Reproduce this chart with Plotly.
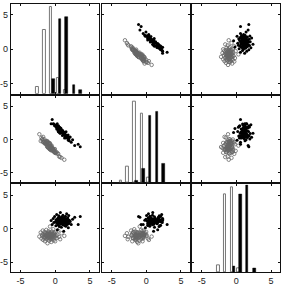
import plotly.graph_objects as go

# ---- data: group A (open circles), group B (filled dots); three variables ----
a_v1 = [-2.3, -2.1, -2.0, -1.9, -1.85, -1.8, -1.75, -1.7, -1.65, -1.6, -1.55, -1.5, -1.48, -1.45, -1.4,
        -1.38, -1.35, -1.3, -1.28, -1.25, -1.2, -1.18, -1.15, -1.12, -1.1, -1.08, -1.05, -1.02, -1.0, -0.97,
        -0.93, -0.9, -0.88, -0.86, -0.84, -0.82, -0.8, -0.78, -0.76, -0.74, -0.72, -0.7, -0.68, -0.66, -0.64,
        -0.62, -0.6, -0.57, -0.54, -0.52, -0.5, -0.47, -0.44, -0.41, -0.38, -0.35, -0.32, -0.29, -0.26, -0.23,
        -0.2, -0.17, -0.13, -0.1, -0.06, -0.02, 0.02, 0.1, 0.2, 0.3, 0.42, 0.55, 0.7, 0.9, 1.3]
a_v2 = [0.77, -0.25, 0.25, 0.00, 0.05, -0.38, 0.37, -0.45, -0.40, -0.30, -0.02, -0.65, -0.54, -0.48, -0.42,
        -0.44, -0.27, -0.75, -0.75, -0.74, -0.25, -1.07, -0.62, -1.16, -0.35, -1.12, -0.44, -1.17, -0.59, -1.34,
        -0.65, -0.99, -1.03, -1.35, -0.73, -1.35, -0.56, -1.44, -0.95, -1.54, -0.74, -1.54, -1.03, -1.53, -1.35,
        -1.24, -1.09, -1.32, -1.24, -1.72, -0.98, -1.61, -1.49, -1.56, -1.38, -1.57, -1.49, -1.74, -1.65, -1.54,
        -1.55, -1.88, -1.91, -2.00, -1.46, -2.03, -1.89, -2.10, -1.95, -2.13, -2.19, -2.59, -2.68, -2.80, -3.08]
a_v3 = [-1.2, -0.6, -1.5, -0.9, -1.1, -0.3, -1.7, -0.8, -1.3, -1.0,
        -0.5, -1.4, -1.9, -0.7, -1.05, -1.25, -0.95, -0.2, -1.6, -1.15,
        -0.85, -1.35, -0.75, -2.2, -1.0, -0.65, -1.45, -1.1, -0.4, -1.3,
        -0.9, -1.8, -1.2, -0.55, -1.0, -1.5, -0.8, -1.25, 0.3, -1.1,
        -0.7, -1.4, -0.95, -1.65, -1.05, -0.6, -1.2, -2.0, -0.85, -1.35,
        -1.0, -0.45, -1.15, -1.55, -0.75, -1.3, -0.9, -0.1, -1.1, -1.75,
        -1.0, -0.65, -1.45, -0.8, -1.2, -1.9, -0.5, -1.05, -1.4, -0.95,
        -0.3, -1.25, -1.6, -0.7, -1.1]

b_v1 = [-0.6, -0.45, -0.3, -0.2, -0.1, 0.0, 0.08, 0.12, 0.16, 0.2, 0.24, 0.28, 0.31, 0.34, 0.37,
        0.4, 0.43, 0.46, 0.49, 0.52, 0.55, 0.58, 0.61, 0.64, 0.67, 0.7, 0.73, 0.76, 0.79, 0.82,
        0.85, 0.88, 0.91, 0.94, 0.97, 1.0, 1.03, 1.07, 1.1, 1.13, 1.16, 1.19, 1.22, 1.25, 1.28,
        1.31, 1.34, 1.37, 1.4, 1.43, 1.46, 1.49, 1.52, 1.55, 1.58, 1.61, 1.64, 1.67, 1.7, 1.73,
        1.76, 1.79, 1.82, 1.85, 1.88, 1.91, 1.94, 1.98, 2.02, 2.15, 2.3, 2.5, 2.8, 3.3, 3.6]
b_v2 = [2.35, 3.00, 2.35, 2.30, 2.07, 2.12, 1.97, 1.98, 1.79, 2.22, 1.54, 2.35, 1.64, 1.81, 1.58,
        1.83, 1.19, 2.06, 1.36, 1.87, 1.08, 1.84, 1.58, 1.73, 0.96, 1.76, 0.93, 1.63, 1.09, 1.64,
        1.06, 1.18, 1.25, 1.35, 1.12, 1.18, 0.58, 1.34, 0.89, 0.88, 0.92, 1.07, 1.05, 0.99, 0.63,
        0.88, 0.20, 1.06, 0.78, 0.69, 0.52, 0.65, 0.50, 1.14, 0.21, 0.42, 0.31, 0.40, 0.35, 0.48,
        0.34, 0.28, 0.23, 0.67, -0.13, 0.09, 0.04, 0.32, -0.22, 0.35, -0.45, -0.05, -0.92, -0.75, -1.12]
b_v3 = [1.2, 0.6, 1.5, 0.9, 1.8, 1.0, 0.4, 1.3, 1.1, 2.1,
        0.8, 1.4, -0.2, 1.15, 0.7, 1.6, 1.05, 0.5, 1.25, 1.9,
        0.95, 0.3, 1.35, 1.7, 0.85, 1.0, 2.4, 1.2, 0.65, 1.45,
        1.1, 0.2, 1.55, 0.9, 1.3, 1.75, 0.75, 1.05, 2.0, 0.55,
        1.4, 1.15, -0.4, 0.8, 1.65, 1.25, 0.45, 1.0, 1.5, 0.9,
        1.85, 1.1, 0.35, 1.35, 0.7, 1.2, 2.2, 0.95, 1.45, 0.6,
        1.0, 1.6, 0.85, 1.3, 0.1, 1.15, 1.95, 0.75, 1.25, 1.05,
        0.6, 1.4, 1.7, 0.6, 1.8]

# ---- histogram bars on the diagonal (bar centre, count) ----
h1_a_x = [-2.6, -1.6, -0.6, 0.35, 1.4];    h1_a_n = [4, 36, 49, 9, 2]
h1_b_x = [-0.3, 0.7, 1.6, 2.7, 3.6];       h1_b_n = [8, 42, 43, 5, 2]
h2_a_x = [-3.65, -2.7, -1.7, -0.6, 0.3];   h2_a_n = [1, 9, 47, 40, 3]
h2_b_x = [-1.4, -0.4, 0.55, 1.55, 2.5];    h2_b_n = [1, 8, 39, 41, 11]
h3_a_x = [-2.6, -1.65, -0.6, 0.3];         h3_a_n = [4, 45, 49, 2]
h3_b_x = [-0.35, 0.6, 1.55, 2.6];          h3_b_n = [3, 45, 50, 2]

tick_vals = [-5, 0, 5]
tick_text = ["-5", "0", "5"]

A = [a_v1, a_v2, a_v3]
B = [b_v1, b_v2, b_v3]
HA = [(h1_a_x, h1_a_n), (h2_a_x, h2_a_n), (h3_a_x, h3_a_n)]
HB = [(h1_b_x, h1_b_n), (h2_b_x, h2_b_n), (h3_b_x, h3_b_n)]

W, H = 282, 286
col_px = [(8, 97), (100, 189), (191, 280)]
row_px = [(4, 94), (96, 183), (185, 273)]
XR = [-6.4, 6.3]
YR = [-6.5, 6.6]

fig = go.Figure()
layout = dict(width=W, height=H, margin=dict(l=0, r=0, t=0, b=0),
              paper_bgcolor="white", plot_bgcolor="rgba(0,0,0,0)", showlegend=False,
              bargap=0, barmode="overlay")

font = dict(family="Liberation Sans, Arial, sans-serif", size=9, color="#222")
hidden = dict(showgrid=False, zeroline=False, showline=False, showticklabels=False, ticks="")
for r in range(3):
    for c in range(3):
        k = r * 3 + c + 1
        xs = "" if k == 1 else str(k)
        xd = [col_px[c][0] / W, col_px[c][1] / W]
        yd = [1 - row_px[r][1] / H, 1 - row_px[r][0] / H]
        common = dict(showgrid=False, zeroline=False, showline=True, linecolor="#111", linewidth=1,
                      mirror="allticks", ticks="inside", ticklen=2, tickcolor="#111",
                      tickvals=tick_vals, ticktext=tick_text, tickfont=font)
        layout["xaxis" + xs] = dict(common, domain=xd, range=XR, anchor="y" + xs,
                                    showticklabels=(r == 2))
        layout["yaxis" + xs] = dict(common, domain=yd, range=YR, anchor="x" + xs,
                                    showticklabels=(c == 0))
        if r == c:
            hk = str(10 + r)
            layout["xaxis" + hk] = dict(hidden, domain=xd, range=XR, anchor="y" + hk)
            layout["yaxis" + hk] = dict(hidden, domain=yd, range=[0, 50.5], anchor="x" + hk)
            ax, an = HA[r]
            bx, bn = HB[r]
            fig.add_trace(go.Scatter(x=[], y=[], mode="markers", xaxis="x" + xs, yaxis="y" + xs))
            fig.add_trace(go.Bar(x=ax, y=an, width=0.36, xaxis="x" + hk, yaxis="y" + hk,
                                 marker=dict(color="white", line=dict(color="#777", width=1))))
            fig.add_trace(go.Bar(x=bx, y=bn, width=0.36, xaxis="x" + hk, yaxis="y" + hk,
                                 marker=dict(color="black", line=dict(color="black", width=0.5))))
        else:
            fig.add_trace(go.Scatter(x=A[c], y=A[r], mode="markers", xaxis="x" + xs, yaxis="y" + xs,
                                     marker=dict(symbol="circle-open", size=3.5, color="#666",
                                                 line=dict(width=0.8))))
            fig.add_trace(go.Scatter(x=B[c], y=B[r], mode="markers", xaxis="x" + xs, yaxis="y" + xs,
                                     marker=dict(symbol="circle", size=3, color="black")))

fig.update_layout(**layout)
fig.write_html("out.html")
